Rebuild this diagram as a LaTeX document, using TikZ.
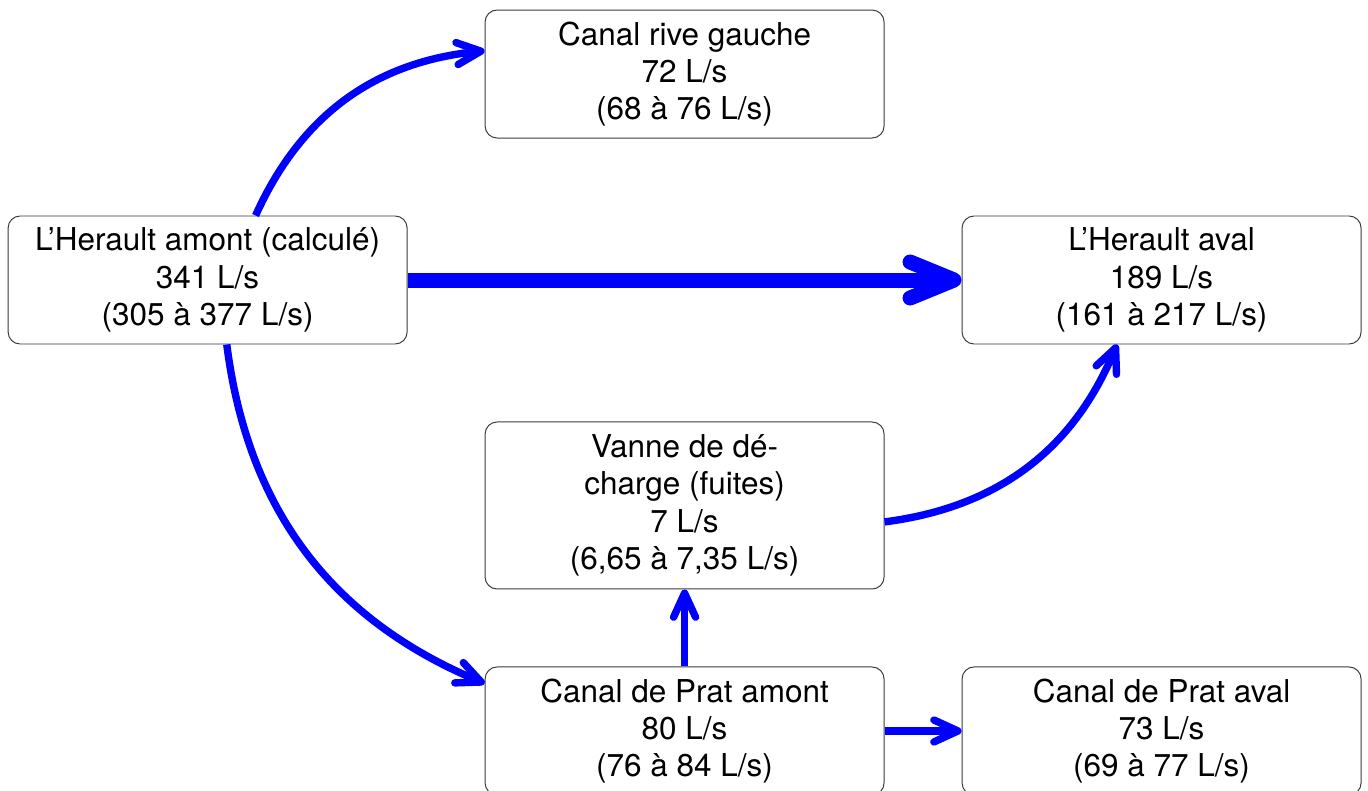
\documentclass[tikz,border=0pt]{standalone}
\usepackage{fontspec}
\setmainfont{TeX Gyre Heros}
\usetikzlibrary{arrows.meta, positioning}
\definecolor{flowblue}{HTML}{0000FF}
\definecolor{boxgray}{HTML}{3A3A3A}

\begin{document}
\begin{tikzpicture}[
    node distance=1.925cm and 1.925cm,
    bilan/.style={draw=boxgray, line width=0.7pt, rounded corners=0.3cm, align=center,
      minimum width=9.975cm, minimum height=3.2cm, font=\fontsize{22.4}{26.6}\selectfont},
    flux/.style={flowblue, line width=0.185cm, -{Straight Barb[length=0.6cm, width=0.55cm, round]}},
    fluxfort/.style={flowblue, line width=0.375cm, -{Straight Barb[length=1.1cm, width=0.9cm, round]}}
  ]
  \useasboundingbox (0,0) rectangle (34.2,-19.775);
  % les bilans
  \node[bilan] (amont) at (5.19,-7) {L'Herault amont (calculé)\\341 L/s\\(305 à 377 L/s)};
  \node[bilan, above right=of amont] (rive) {Canal rive gauche\\72 L/s\\(68 à 76 L/s)};
  \node[bilan, below right=of amont, minimum height=4.175cm] (vanne) {Vanne de dé-\\charge (fuites)\\7 L/s\\(6,65 à 7,35 L/s)};
  \node[bilan, below=of vanne] (pratamont) {Canal de Prat amont\\80 L/s\\(76 à 84 L/s)};
  \node[bilan, above right=of vanne] (aval) {L'Herault aval\\189 L/s\\(161 à 217 L/s)};
  \node[bilan, right=of pratamont] (prataval) {Canal de Prat aval\\73 L/s\\(69 à 77 L/s)};
  % les flux
  \draw[fluxfort] (amont) -- (aval);
  \draw[flux] (amont) to[bend left=30] (rive);
  \draw[flux] (amont) to[bend right=30] (pratamont);
  \draw[flux] (vanne) to[bend right=30] (aval);
  \draw[flux] (pratamont) -- (vanne);
  \draw[flux] (pratamont) -- (prataval);
\end{tikzpicture}
\end{document}
